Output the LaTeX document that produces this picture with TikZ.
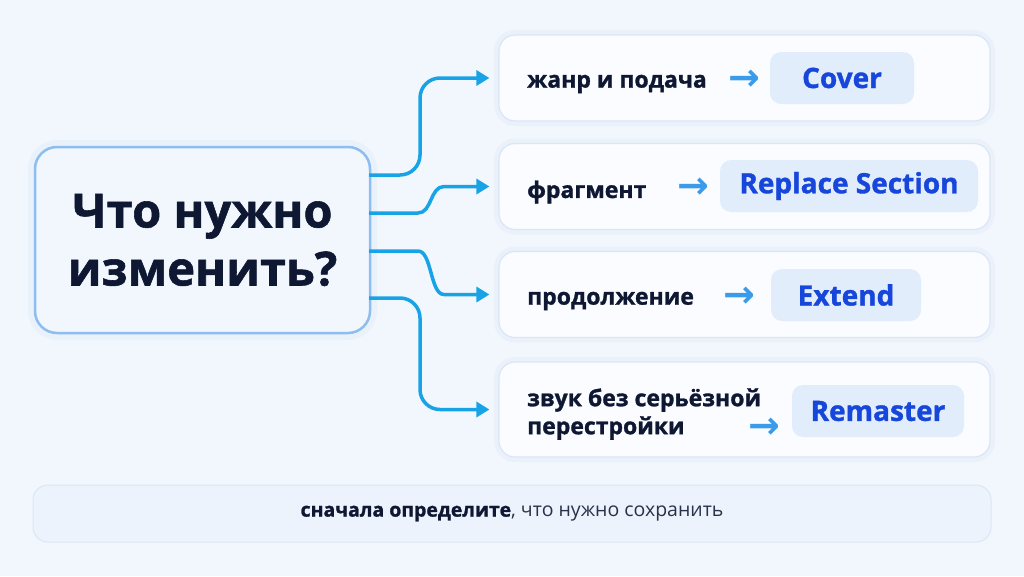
\documentclass[tikz,border=0pt]{standalone}
\usepackage{fontspec}
\setmainfont{Open Sans}[BoldFeatures={FakeBold=1.2}]
\newfontfamily\arrowfont{DejaVu Sans}
\usetikzlibrary{positioning}
\usetikzlibrary{arrows.meta, calc}
\definecolor{bgc}{RGB}{242,247,253}
\definecolor{mainfill}{RGB}{242,247,254}
\definecolor{mainedge}{RGB}{142,190,240}
\definecolor{cardfill}{RGB}{250,252,255}
\definecolor{cardedge}{RGB}{218,230,246}
\definecolor{pillfill}{RGB}{226,237,252}
\definecolor{pilltext}{RGB}{23,70,218}
\definecolor{linkc}{RGB}{24,163,230}
\definecolor{smallarr}{RGB}{59,155,235}
\definecolor{inkc}{RGB}{15,24,51}
\definecolor{greyink}{RGB}{40,50,75}
\definecolor{barfill}{RGB}{237,243,252}

\tikzset{
  mainbox/.style={draw=mainedge, line width=2.5pt, fill=mainfill, rounded corners=22pt,
    minimum width=335pt, minimum height=186pt, align=center, text=inkc,
    font=\fontsize{47}{58}\selectfont\bfseries,
    preaction={draw=mainedge!60, line width=14pt, opacity=0.15}},
  card/.style={draw=cardedge, line width=1.2pt, fill=cardfill, rounded corners=16pt,
    minimum width=491pt, minimum height=86pt,
    preaction={draw=cardedge, line width=10pt, opacity=0.3}},
  lbl/.style={anchor=west, inner sep=0pt, align=left, text=inkc,
    font=\fontsize{23}{28}\selectfont\bfseries},
  pill/.style={fill=pillfill, rounded corners=11pt, minimum height=52pt,
    text=pilltext, font=\fontsize{28}{30}\selectfont\bfseries},
  arr/.style={inner sep=0pt, text=smallarr, font=\arrowfont\fontsize{38}{38}\selectfont\bfseries},
  link/.style={draw=linkc, line width=3.5pt, rounded corners=20pt, shorten >=9pt,
    -{Triangle[length=13pt,width=15pt]}},
  bar/.style={draw=cardedge, line width=1pt, fill=barfill, rounded corners=15pt,
    minimum width=958pt, minimum height=57pt, text=greyink,
    font=\fontsize{19.5}{22}\selectfont}
}

\begin{document}
\begin{tikzpicture}[x=1pt, y=-1pt]
    % фон и рамка картинки
    \useasboundingbox (0,0) rectangle (1024,576);
    \fill[bgc] (0,0) rectangle (1024,576);

    % главный вопрос слева
    \node[mainbox] (q) at (202.5,240) {Что нужно\\изменить?};

    % четыре карточки справа
    \node[card] (b1) at (744.5,78) {};
    \node[card] (b2) at (744.5,186.5) {};
    \node[card] (b3) at (744.5,294.5) {};
    \node[card, minimum height=95pt] (b4) at (744.5,409.5) {};

    % подписи в карточках
    \node[lbl] (l1) at (527,84) {жанр и подача};
    \node[lbl] (l2) at (527,192) {фрагмент};
    \node[lbl] (l3) at (527,301) {продолжение};
    \node[lbl] (l4) at (527,414) {звук без серьёзной\\перестройки};

    % маленькие стрелки
    \node[arr] (a1) at (744,80) {→};
    \node[arr] (a2) at (693,188) {→};
    \node[arr] (a3) at (739,297) {→};
    \node[arr] (a4) at (764,428) {→};

    % режимы
    \node[pill, minimum width=144pt] (p1) at (842,78) {Cover};
    \node[pill, minimum width=258pt] (p2) at (849,186) {Replace Section};
    \node[pill, minimum width=150pt] (p3) at (846,295) {Extend};
    \node[pill, minimum width=172pt] (p4) at (878,411) {Remaster};

    % выходы из главного блока
    \coordinate (o1) at (369,175);
    \coordinate (o2) at (369,213);
    \coordinate (o3) at (369,251);
    \coordinate (o4) at (369,298);

    % соединители
    \draw[link] (o1) -- (420,175) |- (b1.west);
    \draw[link] (o2) -- (398,213) .. controls (432,213) and (430,186.5) .. (464,186.5) -- (b2.west);
    \draw[link] (o3) -- (398,251) .. controls (432,251) and (430,294.5) .. (464,294.5) -- (b3.west);
    \draw[link] (o4) -- (420,298) |- (b4.west);

    % подсказка внизу
    \node[bar] (note) at (512,513.5) {\textcolor{inkc}{\bfseries сначала определите}, что нужно сохранить};
\end{tikzpicture}
\end{document}
